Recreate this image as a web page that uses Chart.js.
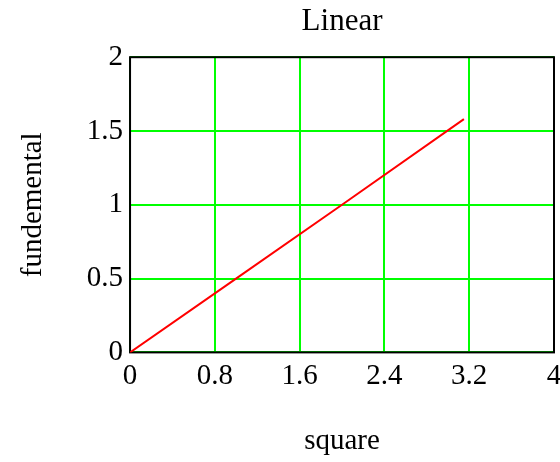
<!DOCTYPE html>
<html>
<head>
<meta charset="utf-8">
<script src="https://cdn.jsdelivr.net/npm/chart.js@4"></script>
<style>
  html, body { margin: 0; padding: 0; background: #fff; overflow: hidden; }
  #wrap { width: 560px; height: 462px; }
</style>
</head>
<body>
<div id="wrap"><canvas id="lin-chart"></canvas></div>
<script>
// fundemental vs square
const xVals = [0, 1, 2, 3.15];
const yVals = [0, 0.5, 1, 1.58];

const xTicks = [0, 0.8, 1.6, 2.4, 3.2, 4];
const yTicks = [0, 0.5, 1, 1.5, 2];

const serif = "'Liberation Serif', 'Times New Roman', serif";

// black box round the plot, drawn under the curve
const frame = {
  id: 'frame',
  beforeDatasetsDraw(chart) {
    const { ctx, chartArea: a } = chart;
    ctx.save();
    ctx.strokeStyle = '#000';
    ctx.lineWidth = 2;
    ctx.strokeRect(a.left, a.top, a.right - a.left, a.bottom - a.top);
    ctx.restore();
  }
};

const points = xVals.map((x, i) => ({ x, y: yVals[i] }));

new Chart(document.getElementById('lin-chart'), {
  type: 'scatter',
  data: {
    datasets: [{
      data: points,
      showLine: true,
      borderColor: '#ff0000',
      borderWidth: 2,
      pointRadius: 0,
      tension: 0
    }]
  },
  options: {
    responsive: true,
    maintainAspectRatio: false,
    animation: false,
    layout: { padding: { top: 0, right: 6, bottom: 0, left: 0 } },
    plugins: {
      legend: { display: false },
      tooltip: { enabled: false },
      title: {
        display: true,
        text: 'Linear',
        fullSize: false,
        color: '#000',
        font: { family: serif, size: 31, weight: 'normal' },
        padding: { top: 3, bottom: 17 }
      }
    },
    scales: {
      x: {
        type: 'linear',
        min: 0,
        max: 4,
        afterBuildTicks: axis => { axis.ticks = xTicks.map(v => ({ value: v })); },
        // let the "4" run off the right edge
        afterFit: axis => { axis.paddingRight = 0; },
        ticks: {
          color: '#000',
          padding: 7,
          maxRotation: 0,
          font: { family: serif, size: 29 },
          callback: v => String(v)
        },
        grid: { color: '#00ff00', lineWidth: 2, drawTicks: false },
        border: { display: false },
        title: {
          display: true,
          text: 'square',
          color: '#000',
          font: { family: serif, size: 29 },
          padding: { top: 23, bottom: 3 }
        }
      },
      y: {
        type: 'linear',
        min: 0,
        max: 2,
        afterBuildTicks: axis => { axis.ticks = yTicks.map(v => ({ value: v })); },
        ticks: {
          color: '#000',
          padding: 7,
          font: { family: serif, size: 29 },
          callback: v => String(v)
        },
        grid: { color: '#00ff00', lineWidth: 2, drawTicks: false },
        border: { display: false },
        title: {
          display: true,
          text: 'fundemental',
          color: '#000',
          font: { family: serif, size: 29 },
          padding: { top: 16, bottom: 29 }
        }
      }
    }
  },
  plugins: [frame]
});
</script>
</body>
</html>
